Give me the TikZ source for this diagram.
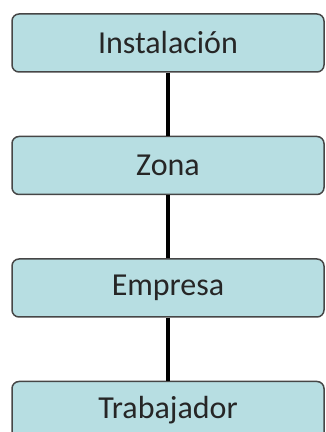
\documentclass[tikz,border=0pt]{standalone}
\usepackage{fontspec}
\setmainfont{Carlito}
\usepackage{xcolor}
\usepackage{tikz}
\usetikzlibrary{positioning}

\definecolor{boxfill}{RGB}{183,222,226}
\definecolor{boxline}{RGB}{70,70,70}

\begin{document}
\begin{tikzpicture}[x=1pt, y=1pt, node distance=63pt]
    % Define styles
    \tikzstyle{level} = [rectangle, rounded corners=7pt, minimum width=312pt, minimum height=58pt, text centered, draw=boxline, line width=1.5pt, fill=boxfill, text=black!85, font=\fontsize{32}{38}\selectfont]
    \tikzstyle{link} = [line width=4pt, black]

    \useasboundingbox (0,0) rectangle (325,432);

    % Nodes
    \node [level] (inst) at (168,389) {Instalación};
    \node [level, below=of inst] (zona) {Zona};
    \node [level, below=of zona] (empresa) {Empresa};
    \node [level, below=of empresa] (trab) {Trabajador};

    % Links
    \draw [link] (inst) -- (zona);
    \draw [link] (zona) -- (empresa);
    \draw [link] (empresa) -- (trab);

\end{tikzpicture}
\end{document}
